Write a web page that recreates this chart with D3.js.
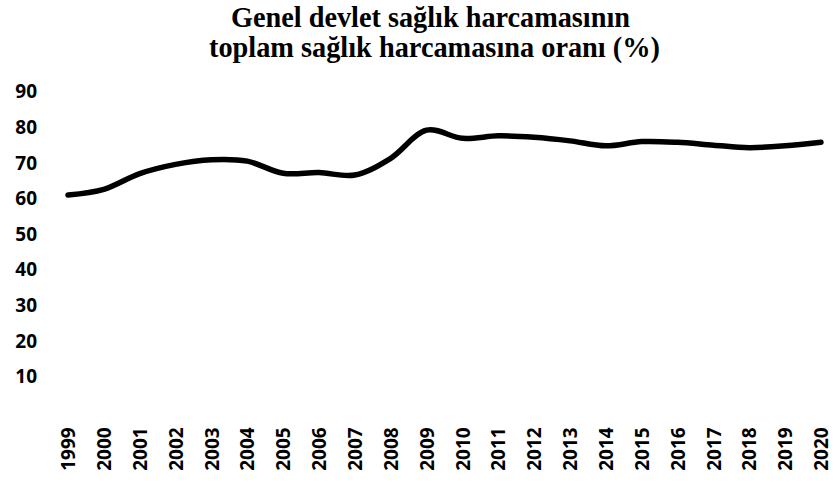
<!DOCTYPE html>
<html lang="tr">
<head>
<meta charset="utf-8">
<script src="https://cdn.jsdelivr.net/npm/d3@7"></script>
<style>
  html, body { margin: 0; padding: 0; background: #fff; }
  svg { display: block; }
</style>
</head>
<body>
<svg id="chart" width="833" height="486"></svg>
<script>
// Genel devlet sağlık harcamasının toplam sağlık harcamasına oranı (%), 1999–2020
const years = [1999, 2000, 2001, 2002, 2003, 2004, 2005, 2006, 2007, 2008, 2009,
               2010, 2011, 2012, 2013, 2014, 2015, 2016, 2017, 2018, 2019, 2020];
const shares = [61.0, 62.6, 67.0, 69.6, 70.9, 70.5, 67.1, 67.3, 66.6, 71.3, 79.2,
                76.9, 77.6, 77.2, 76.2, 74.8, 76.0, 75.8, 75.0, 74.3, 74.8, 75.8];
const yTicks = [10, 20, 30, 40, 50, 60, 70, 80, 90];
const titleLines = ["Genel devlet sağlık harcamasının", "toplam sağlık harcamasına oranı (%)"];

const svg = d3.select("#chart");

const x = d3.scalePoint().domain(years).range([68, 821]);
const y = d3.scaleLinear().domain([0, 90]).range([412.3, 91.7]);

// Title (two lines, bold serif)
const titleWidths = [399, 451];
const titleBase = [26.7, 56.7];
svg.append("g").selectAll("text")
  .data(titleLines)
  .join("text")
  .attr("x", (d, i) => i === 0 ? 231 : 209)
  .attr("y", (d, i) => titleBase[i])
  .attr("textLength", (d, i) => titleWidths[i])
  .attr("lengthAdjust", "spacingAndGlyphs")
  .style("font-family", "'Liberation Serif', 'Times New Roman', serif")
  .style("font-weight", "bold")
  .style("font-size", "29px")
  .style("fill", "#000")
  .text(d => d);

const labelFont = "'Open Sans', 'DejaVu Sans', sans-serif";

// Left axis: labels only
const yAxis = svg.append("g")
  .attr("transform", "translate(40,0)")
  .call(d3.axisLeft(y).tickValues(yTicks).tickSize(0).tickPadding(3));
yAxis.select(".domain").remove();
yAxis.selectAll("text")
  .style("font-family", labelFont)
  .style("font-weight", "bold")
  .style("font-size", "19px")
  .style("fill", "#000");

// Bottom axis: vertical year labels
const xAxis = svg.append("g")
  .attr("transform", `translate(0,${y(0)})`)
  .call(d3.axisBottom(x).tickSize(0));
xAxis.select(".domain").remove();
xAxis.selectAll("text")
  .attr("transform", "rotate(-90)")
  .attr("x", -15)
  .attr("y", 0)
  .attr("dy", "0.35em")
  .style("text-anchor", "end")
  .style("font-family", labelFont)
  .style("font-weight", "bold")
  .style("font-size", "19px")
  .style("fill", "#000");

// Smoothed series line
const line = d3.line()
  .x((d, i) => x(years[i]))
  .y(d => y(d))
  .curve(d3.curveCatmullRom.alpha(0.5));

svg.append("path")
  .datum(shares)
  .attr("d", line)
  .attr("fill", "none")
  .attr("stroke", "#000")
  .attr("stroke-width", 5.5)
  .attr("stroke-linecap", "round")
  .attr("stroke-linejoin", "round");
</script>
</body>
</html>
